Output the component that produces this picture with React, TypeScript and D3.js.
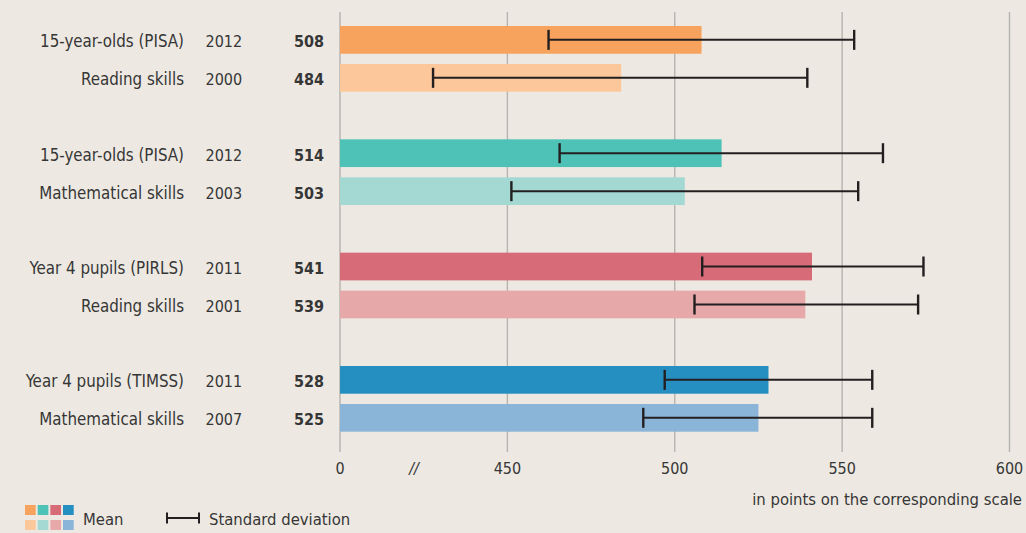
import React from "react";
import * as d3 from "d3";

const labels = [
  "15-year-olds (PISA)",
  "Reading skills",
  "15-year-olds (PISA)",
  "Mathematical skills",
  "Year 4 pupils (PIRLS)",
  "Reading skills",
  "Year 4 pupils (TIMSS)",
  "Mathematical skills",
];
const years = ["2012", "2000", "2012", "2003", "2011", "2001", "2011", "2007"];
const means = [508, 484, 514, 503, 541, 539, 528, 525];
const sdLow = [462.3, 427.8, 465.6, 451.2, 508.2, 505.9, 497.0, 490.6];
const sdHigh = [553.6, 539.6, 562.2, 554.8, 574.3, 572.7, 559.0, 559.0];
const colors = ["#f7a35d", "#fcc79b", "#4fc2b7", "#a3d9d2", "#d76b77", "#e7a8a9", "#258fc2", "#8ab5d8"];
const tickValues = [400, 450, 500, 550, 600];
const tickLabels = ["0", "450", "500", "550", "600"];

const W = 1026;
const H = 533;
const FONT = "'DejaVu Sans Condensed', 'DejaVu Sans', sans-serif";
const TEXT = "#363636";

export default function App() {
  const x = d3.scaleLinear().domain([400, 600]).range([340, 1009.5]);
  const groups = d3.range(4);
  const yGroup = d3.scaleBand<number>().domain(groups).range([26, 26 + 4 * 113.33]).paddingInner(0).paddingOuter(0);
  const yInner = d3.scaleBand<number>().domain([0, 1]).range([0, 65.7]).paddingInner(0.27).paddingOuter(0);
  const bh = yInner.bandwidth();
  const rowY = (i: number) => (yGroup(Math.floor(i / 2)) as number) + (yInner(i % 2) as number);

  return (
    <svg
      width={W}
      height={H}
      style={{ position: "absolute", left: 0, top: 0, background: "#ede9e2" }}
      fontFamily={FONT}
      fontStretch="condensed"
    >
      <rect x={0} y={0} width={W} height={H} fill="#ede9e2" />
      {tickValues.map((t) => (
        <line key={"g" + t} x1={x(t)} x2={x(t)} y1={12} y2={452} stroke="#b5b3b0" strokeWidth={1.4} />
      ))}
      {means.map((m, i) => (
        <rect key={"b" + i} x={x(400)} y={rowY(i)} width={x(m) - x(400)} height={bh} fill={colors[i]} />
      ))}
      {means.map((m, i) => {
        const cy = rowY(i) + bh / 2;
        return (
          <g key={"e" + i} stroke="#231f20">
            <line x1={x(sdLow[i])} x2={x(sdHigh[i])} y1={cy} y2={cy} strokeWidth={2} />
            <line x1={x(sdLow[i])} x2={x(sdLow[i])} y1={cy - 10} y2={cy + 10} strokeWidth={2.4} />
            <line x1={x(sdHigh[i])} x2={x(sdHigh[i])} y1={cy - 10} y2={cy + 10} strokeWidth={2.4} />
          </g>
        );
      })}
      {labels.map((l, i) => {
        const by = rowY(i) + bh / 2 + 7.6;
        return (
          <g key={"t" + i} fill={TEXT}>
            <text x={184} y={by} textAnchor="end" fontSize={16.8}>{l}</text>
            <text x={205.5} y={by} fontSize={16}>{years[i]}</text>
            <text x={324} y={by} textAnchor="end" fontWeight="bold" fontSize={16}>{means[i]}</text>
          </g>
        );
      })}
      {tickValues.map((t, i) => (
        <text key={"tl" + t} x={x(t)} y={474} textAnchor="middle" fontSize={16} fill={TEXT}>
          {tickLabels[i]}
        </text>
      ))}
      <text x={414} y={474} textAnchor="middle" fontSize={16} fill={TEXT} fontStyle="italic">//</text>
      <text x={1022} y={505} textAnchor="end" fontSize={16.5} fill={TEXT}>in points on the corresponding scale</text>
      {colors.map((c, i) => (
        <rect
          key={"lg" + i}
          x={25 + Math.floor(i / 2) * 12.67}
          y={i % 2 === 0 ? 505 : 520}
          width={10.7}
          height={10}
          fill={c}
        />
      ))}
      <text x={83} y={525} fontSize={16.5} fill={TEXT}>Mean</text>
      <g stroke="#231f20">
        <line x1={167} x2={199} y1={518} y2={518} strokeWidth={2} />
        <line x1={167} x2={167} y1={512.5} y2={523.5} strokeWidth={2} />
        <line x1={199} x2={199} y1={512.5} y2={523.5} strokeWidth={2} />
      </g>
      <text x={209} y={525} fontSize={16.5} fill={TEXT}>Standard deviation</text>
    </svg>
  );
}
